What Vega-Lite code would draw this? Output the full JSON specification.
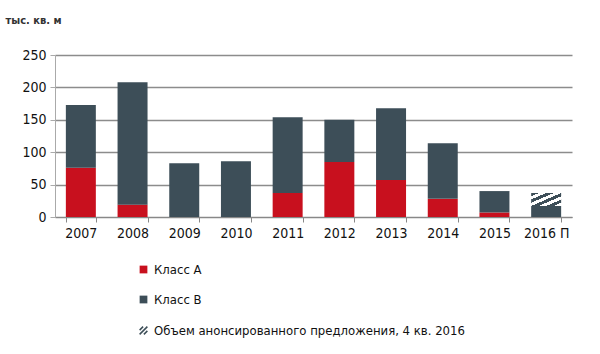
{
  "$schema": "https://vega.github.io/schema/vega-lite/v6.json",
  "width": 517,
  "height": 162,
  "autosize": "none",
  "padding": {"left": 55, "top": 55, "right": 28, "bottom": 137},
  "background": "white",
  "config": {
    "font": "Liberation Sans Narrow, DejaVu Sans Condensed, sans-serif",
    "view": {"stroke": null}
  },
  "data": {
    "values": [
      {"year": "2007", "series": "Класс А", "o": 1, "value": 76},
      {"year": "2007", "series": "Класс В", "o": 2, "value": 97},
      {"year": "2008", "series": "Класс А", "o": 1, "value": 19},
      {"year": "2008", "series": "Класс В", "o": 2, "value": 189},
      {"year": "2009", "series": "Класс В", "o": 2, "value": 83},
      {"year": "2010", "series": "Класс В", "o": 2, "value": 86},
      {"year": "2011", "series": "Класс А", "o": 1, "value": 37},
      {"year": "2011", "series": "Класс В", "o": 2, "value": 117},
      {"year": "2012", "series": "Класс А", "o": 1, "value": 85},
      {"year": "2012", "series": "Класс В", "o": 2, "value": 65},
      {"year": "2013", "series": "Класс А", "o": 1, "value": 57},
      {"year": "2013", "series": "Класс В", "o": 2, "value": 111},
      {"year": "2014", "series": "Класс А", "o": 1, "value": 28},
      {"year": "2014", "series": "Класс В", "o": 2, "value": 86},
      {"year": "2015", "series": "Класс А", "o": 1, "value": 7},
      {"year": "2015", "series": "Класс В", "o": 2, "value": 33},
      {"year": "2016 П", "series": "Класс В", "o": 2, "value": 17},
      {"year": "2016 П", "series": "Объем анонсированного предложения, 4 кв. 2016", "o": 3, "value": 20}
    ]
  },
  "transform": [
    {"stack": "value", "groupby": ["year"], "sort": [{"field": "o", "order": "ascending"}], "as": ["v0", "v1"]}
  ],
  "encoding": {
    "x": {
      "field": "year", "type": "ordinal", "sort": null,
      "scale": {"paddingInner": 0.42, "paddingOuter": 0.21},
      "axis": {
        "title": null, "labelAngle": 0, "labelFontSize": 14, "labelColor": "#111",
        "domainColor": "#888", "tickColor": "#888", "tickBand": "extent", "tickSize": 5,
        "labelPadding": 4
      }
    },
    "y": {
      "field": "v1", "type": "quantitative",
      "scale": {"domain": [0, 250]},
      "axis": {
        "values": [0, 50, 100, 150, 200, 250],
        "title": "тыс. кв. м", "titleAngle": 0, "titleAlign": "left", "titleBaseline": "middle",
        "titleX": -50, "titleY": -35, "titleFontSize": 11, "titleFontWeight": "bold", "titleColor": "#333",
        "labelFontSize": 14, "labelColor": "#111", "labelPadding": 4,
        "domainColor": "#aaa", "tickColor": "#aaa", "tickSize": 5,
        "grid": true, "gridColor": "#8c8c8c", "gridWidth": 1.5
      }
    },
    "y2": {"field": "v0"}
  },
  "layer": [
    {
      "mark": {"type": "bar"},
      "encoding": {
        "color": {
          "field": "series", "type": "nominal",
          "scale": {
            "domain": ["Класс А", "Класс В", "Объем анонсированного предложения, 4 кв. 2016"],
            "range": ["#C8101E", "#3D4E58", "#ffffff"]
          },
          "legend": {
            "title": null, "orient": "none", "legendX": 82, "legendY": 208,
            "direction": "vertical", "symbolType": "square", "symbolSize": 60,
            "labelFontSize": 13, "labelColor": "#111", "rowPadding": 16, "labelOffset": 4,
            "symbolStrokeWidth": 0, "labelLimit": 400,
            "encode": {
              "symbols": {
                "update": {
                  "shape": {"signal": "datum.value === 'Объем анонсированного предложения, 4 кв. 2016' ? 'M-1,-0.1L-0.1,-1M-1,1L1,-1M0.1,1L1,0.1' : 'square'"},
                  "stroke": {"value": "#3D4E58"},
                  "strokeWidth": {"signal": "datum.value === 'Объем анонсированного предложения, 4 кв. 2016' ? 1.5 : 0"}
                }
              }
            }
          }
        }
      }
    },
    {
      "transform": [{"filter": "datum.o == 3"}],
      "mark": {
        "type": "bar",
        "fill": {"gradient": "linear", "x1": 0, "y1": 0, "x2": 1, "y2": 1,
           "stops": [
             {"offset": 0, "color": "#3D4E58"}, {"offset": 0.125, "color": "#3D4E58"},
             {"offset": 0.125, "color": "#ffffff"}, {"offset": 0.25, "color": "#ffffff"},
             {"offset": 0.25, "color": "#3D4E58"}, {"offset": 0.375, "color": "#3D4E58"},
             {"offset": 0.375, "color": "#ffffff"}, {"offset": 0.5, "color": "#ffffff"},
             {"offset": 0.5, "color": "#3D4E58"}, {"offset": 0.625, "color": "#3D4E58"},
             {"offset": 0.625, "color": "#ffffff"}, {"offset": 0.75, "color": "#ffffff"},
             {"offset": 0.75, "color": "#3D4E58"}, {"offset": 0.875, "color": "#3D4E58"},
             {"offset": 0.875, "color": "#ffffff"}, {"offset": 1, "color": "#ffffff"}
           ]}
      }
    }
  ]
}
